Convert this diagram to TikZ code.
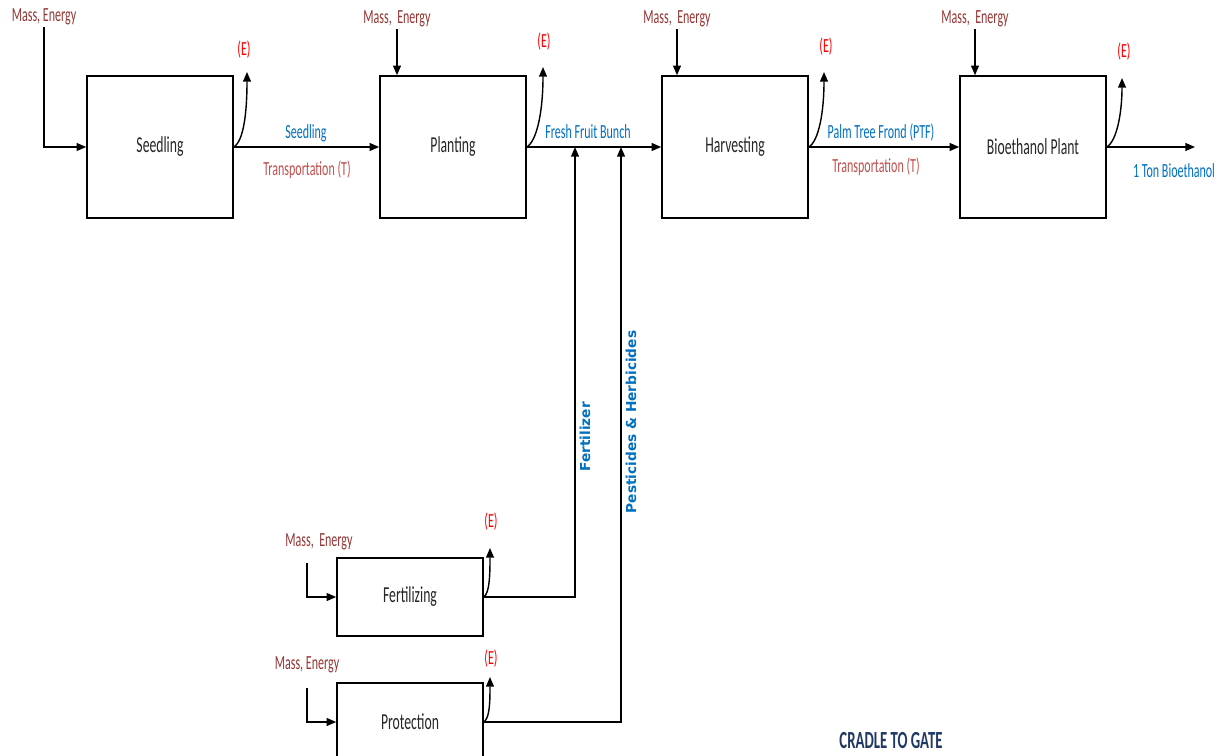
\documentclass[tikz,border=0pt]{standalone}
\usepackage{fontspec}
\setmainfont{Carlito}[FakeStretch=0.6]
\newfontfamily\vertfont{DejaVu Sans}
\usetikzlibrary{arrows.meta}
\definecolor{massred}{HTML}{943634}
\definecolor{transred}{HTML}{C0504D}
\definecolor{flowblue}{HTML}{0070C0}
\definecolor{navy}{HTML}{1F3864}

\begin{document}
\begin{tikzpicture}[x=0.02cm, y=-0.02cm,
        proc/.style={draw=black, line width=0.9pt, minimum width=2.92cm, minimum height=2.84cm, inner sep=0pt, text=black!85, font=\fontsize{13}{15}\selectfont},
        subproc/.style={proc, minimum height=1.56cm},
        inlab/.style={text=massred, inner sep=1pt, font=\fontsize{11.4}{13}\selectfont},
        elab/.style={text=red, inner sep=1pt, font=\fontsize{11.4}{13}\selectfont},
        flowlab/.style={text=flowblue, inner sep=1pt, font=\fontsize{11.4}{13}\selectfont},
        translab/.style={text=transred, inner sep=1pt, font=\fontsize{11.4}{13}\selectfont},
        vertlab/.style={text=flowblue, rotate=90, inner sep=1pt, font=\vertfont\bfseries\fontsize{7.8}{9}\selectfont},
        flow/.style={-{Triangle[length=5.5pt,width=4.5pt]}, line width=0.8pt}
    ]
        \useasboundingbox (0,0) rectangle (1222,756);

        % Process boxes
        \node[proc] (sd) at (160,147) {Seedling};
        \node[proc] (pl) at (453,147) {Planting};
        \node[proc] (hv) at (735,147) {Harvesting};
        \node[proc] (bp) at (1033,147) {Bioethanol Plant};
        \node[subproc] (fz) at (410,597) {Fertilizing};
        \node[subproc] (pr) at (410,722) {Protection};

        % Inputs
        \node[inlab] (mS) at (44,17) {Mass, Energy};
        \node[inlab] (mP) at (397,19) {Mass,~ Energy};
        \node[inlab] (mH) at (677,19) {Mass,~ Energy};
        \node[inlab] (mB) at (975,19) {Mass,~ Energy};
        \node[inlab] (mF) at (319,542) {Mass,~ Energy};
        \node[inlab] (mPr) at (307,665) {Mass, Energy};
        \coordinate (cF) at (307,563);
        \coordinate (cPr) at (307,688);

        % Emissions
        \node[elab] (eS) at (244,50) {(E)};
        \node[elab] (eP) at (544,42) {(E)};
        \node[elab] (eH) at (826,47) {(E)};
        \node[elab] (eB) at (1124,52) {(E)};
        \node[elab] (eF) at (491,522) {(E)};
        \node[elab] (ePr) at (491,659) {(E)};
        \coordinate (tS) at (247,72);
        \coordinate (tP) at (543,67);
        \coordinate (tH) at (824,72);
        \coordinate (tB) at (1122,78);
        \coordinate (tF) at (490,548);
        \coordinate (tPr) at (490,677);

        % Flow labels
        \node[flowlab] (lSd) at (306,133) {Seedling};
        \node[translab] (tSd) at (307,170) {Transportation (T)};
        \node[flowlab] (lFFB) at (588,132) {Fresh Fruit Bunch};
        \node[flowlab] (lPTF) at (881,133) {Palm Tree Frond (PTF)};
        \node[translab] (tPTF) at (876,167) {Transportation (T)};
        \node[flowlab] (lBio) at (1174,171) {1 Ton Bioethanol};
        \node[vertlab] (lFert) at (585,437) {Fertilizer};
        \node[vertlab] (lPest) at (631,422) {Pesticides \& Herbicides};
        \node[text=navy, font=\bfseries\fontsize{14}{16}\selectfont] (cradle) at (891,741) {CRADLE TO GATE};

        % Edges
        \draw[flow] (mS.south) |- (sd.west);
        \draw[flow] (mP.south) -- (mP.south |- pl.north);
        \draw[flow] (mH.south) -- (mH.south |- hv.north);
        \draw[flow] (mB.south) -- (mB.south |- bp.north);
        \draw[flow] (cF) |- (fz.west);
        \draw[flow] (cPr) |- (pr.west);

        \draw[flow] (sd.east) -- (pl.west);
        \draw[flow] (pl.east) -- (hv.west);
        \draw[flow] (hv.east) -- (bp.west);
        \coordinate (out) at (1195,147);
        \draw[flow] (bp.east) -- (out);

        \coordinate (jF) at (575,147);
        \coordinate (jP) at (621,147);
        \draw[flow] (fz.east) -| (jF);
        \draw[flow] (pr.east) -| (jP);

        \draw[flow] (sd.east) .. controls +(10,-6) and +(0,40) .. (tS);
        \draw[flow] (pl.east) .. controls +(10,-6) and +(0,45) .. (tP);
        \draw[flow] (hv.east) .. controls +(10,-6) and +(0,40) .. (tH);
        \draw[flow] (bp.east) .. controls +(10,-6) and +(0,35) .. (tB);
        \draw[flow] (fz.east) .. controls +(6,-4) and +(0,25) .. (tF);
        \draw[flow] (pr.east) .. controls +(6,-4) and +(0,25) .. (tPr);

    \end{tikzpicture}
\end{document}
